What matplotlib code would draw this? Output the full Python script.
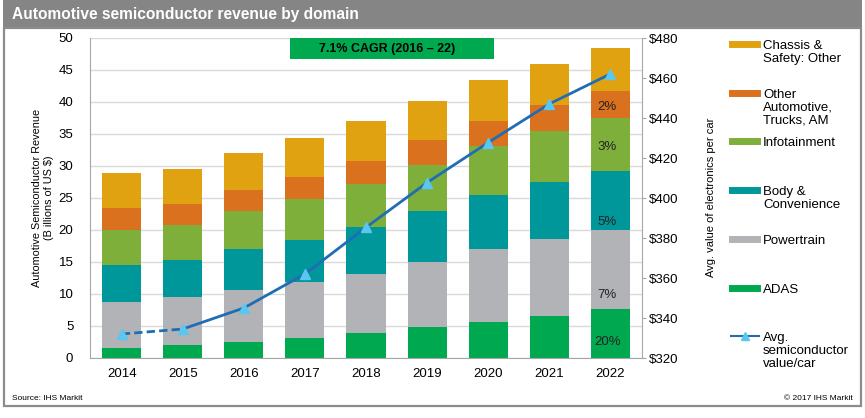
import numpy as np
import matplotlib.pyplot as plt
from matplotlib.lines import Line2D
from matplotlib.patches import Rectangle

plt.rcParams['font.family'] = ['Liberation Sans', 'DejaVu Sans']

years = ['2014', '2015', '2016', '2017', '2018', '2019', '2020', '2021', '2022']
adas = [1.5, 2.0, 2.55, 3.1, 3.95, 4.8, 5.6, 6.6, 7.7]
powertrain = [7.3, 7.5, 8.05, 8.7, 9.25, 10.25, 11.4, 12.05, 12.35]
body = [5.7, 5.8, 6.4, 6.7, 7.3, 7.95, 8.4, 8.8, 9.15]
infotainment = [5.45, 5.5, 5.9, 6.3, 6.7, 7.2, 7.7, 8.05, 8.3]
other_auto = [3.45, 3.2, 3.35, 3.5, 3.6, 3.8, 3.9, 4.1, 4.2]
chassis = [5.55, 5.6, 5.85, 6.0, 6.2, 6.2, 6.4, 6.4, 6.8]
value_per_car = [332, 334.5, 345, 362, 385.3, 407.7, 427.7, 447, 462]
pct_2022 = ['20%', '7%', '5%', '3%', '2%']

series = [adas, powertrain, body, infotainment, other_auto, chassis]
colors = ['#00A94F', '#B1B3B6', '#00979A', '#7DAF3A', '#D9711F', '#E1A212']
legend_labels = ['Chassis &\nSafety: Other', 'Other\nAutomotive,\nTrucks, AM', 'Infotainment',
                 'Body &\nConvenience', 'Powertrain', 'ADAS', 'Avg.\nsemiconductor\nvalue/car']

W, H = 865, 418
fig = plt.figure(figsize=(W / 100, H / 100), dpi=100)

# header band and frame
fig.add_artist(Rectangle((3 / W, 1 - 28 / H), 859 / W, 28 / H, transform=fig.transFigure,
                         facecolor='#858585', edgecolor='none'))
fig.add_artist(Rectangle((4 / W, 1 - 406 / H), 857 / W, 378 / H, transform=fig.transFigure,
                         facecolor='none', edgecolor='#8c8c8c', lw=1.6))
fig.text(12 / W, 1 - 14 / H, 'Automotive semiconductor revenue by domain', color='white',
         fontsize=11.2, fontweight='bold', va='center', ha='left')

ax = fig.add_axes([90 / W, 1 - 358 / H, 552 / W, 320 / H])
x = np.arange(len(years))
bottom = np.zeros(len(years))
for vals, c in zip(series, colors):
    ax.bar(x, vals, width=0.64, bottom=bottom, color=c, zorder=2)
    bottom += np.array(vals)

ax.set_xlim(-0.52, 8.52)
ax.set_ylim(0, 50)
ax.set_yticks(np.arange(0, 51, 5))
ax.set_xticks(x, years)
ax.yaxis.grid(True, color='#d9d9d9', lw=1, zorder=0)
ax.tick_params(axis='y', length=0, pad=12, labelsize=9.5)
ax.tick_params(axis='x', length=0, pad=7, labelsize=9.5)
for s in ['top', 'right']:
    ax.spines[s].set_visible(False)
ax.spines['left'].set_color('#a6a6a6')
ax.spines['bottom'].set_color('#a6a6a6')
ax.set_ylabel('Automotive Semiconductor Revenue\n(B illions of US $)', fontsize=7.8,
              labelpad=3, linespacing=1.3)

# percentage labels inside the 2022 bar
label_y = [2.5, 9.8, 21.25, 33.0, 39.2]
for lbl, yv in zip(pct_2022, label_y):
    ax.text(x[-1] - 0.05, yv, lbl, ha='center', va='center', fontsize=9.5, color='#222222', zorder=5)

# CAGR box
ax.add_patch(Rectangle((2.75, 46.7), 3.35, 3.3, facecolor='#00A94F', edgecolor='none', zorder=6))
ax.text(4.35, 48.35, '7.1% CAGR (2016 – 22)', ha='center', va='center', fontsize=9,
        fontweight='bold', zorder=7)

ax2 = ax.twinx()
ax2.set_ylim(320, 480)
ax2.set_yticks(np.arange(320, 481, 20))
ax2.set_yticklabels(['$%d' % v for v in np.arange(320, 481, 20)])
ax2.tick_params(axis='y', length=3, color='#a6a6a6', pad=2, labelsize=9.5)
for s in ['top', 'left', 'bottom']:
    ax2.spines[s].set_visible(False)
ax2.spines['right'].set_color('#a6a6a6')
ax2.plot(x[:2], value_per_car[:2], color='#1F6DB5', lw=2, ls=(0, (3, 1.5)), zorder=3)
ax2.plot(x[1:], value_per_car[1:], color='#1F6DB5', lw=2, zorder=3)
ax2.plot(x, value_per_car, ls='none', marker='^', ms=7, color='#5BC6F0', zorder=4)
fig.text(711 / W, 1 - 197 / H, 'Avg. value of electronics per car', rotation=90,
         ha='center', va='center', fontsize=8)

# legend
handle_y = [44, 93, 141, 190, 239, 288, 336]
legend_colors = colors[::-1]
for i, lbl in enumerate(legend_labels):
    yy = 1 - handle_y[i] / H
    if i < 6:
        fig.add_artist(Line2D([732 / W, 757 / W], [yy, yy], color=legend_colors[i], lw=5,
                              transform=fig.transFigure))
    else:
        fig.add_artist(Line2D([731 / W, 759 / W], [yy, yy], color='#1F6DB5', lw=1.5,
                              transform=fig.transFigure))
        fig.add_artist(Line2D([745 / W], [yy], marker='^', ms=6, color='#5BC6F0', ls='none',
                              transform=fig.transFigure))
    fig.text(763 / W, yy + 4 / H, lbl, ha='left', va='top', fontsize=9.5, linespacing=1.1)

fig.text(12 / W, 1 - 398 / H, 'Source: IHS Markit', fontsize=6, va='center', ha='left')
fig.text(853 / W, 1 - 398 / H, '© 2017 IHS Markit', fontsize=6, va='center', ha='right')

fig.savefig('out.png', dpi=100)
